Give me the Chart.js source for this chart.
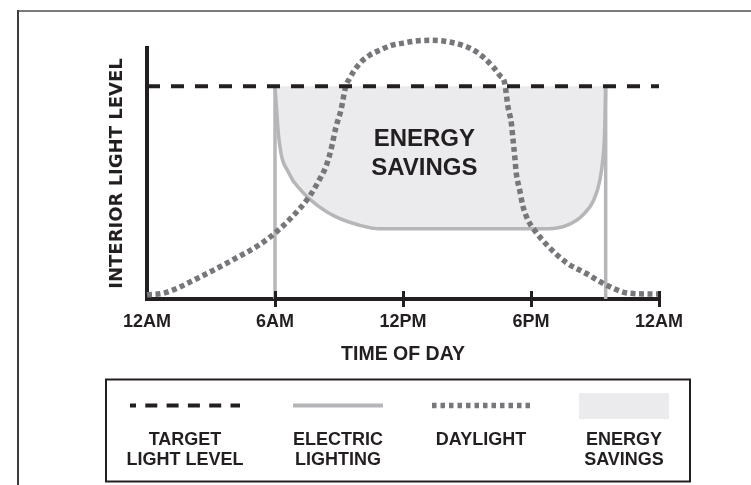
<!DOCTYPE html>
<html>
<head>
<meta charset="utf-8">
<title>Daylight harvesting</title>
<script src="https://cdn.jsdelivr.net/npm/chart.js@4.4.1/dist/chart.umd.min.js"></script>
<style>
    html, body { margin: 0; padding: 0; background: #fff; }
    canvas { display: block; }
</style>
</head>
<body>
<canvas id="bieu-do" width="751" height="485"></canvas>
<script>
// values: x = hour of day, y = light level (target = 100)
const tickLabels = ['12AM', '6AM', '12PM', '6PM', '12AM'];

const targetHours = [0, 24];
const targetLevel = [100, 100];

const daylightHours = [0, 0.8, 2.4, 4.0, 5.25, 6.0, 6.8, 7.6, 8.07, 8.38, 8.62, 8.86, 9.09, 9.31, 9.49, 9.72, 10.03, 10.43, 10.9, 11.45, 12.0, 12.61, 13.31, 14.02, 14.66, 15.28, 15.75, 16.22, 16.53, 16.77, 16.92, 17.08, 17.16, 17.24, 17.31, 17.47, 17.63, 17.86, 18.16, 18.82, 19.7, 20.57, 21.52, 22.62, 24];
const daylightLevel = [2, 2.8, 9.9, 18.3, 25.4, 31, 38.6, 48, 55.9, 62.1, 70, 80.9, 88.7, 99.7, 103.6, 107.5, 111.4, 114.6, 116.9, 119.2, 120.3, 121.3, 121.6, 121.1, 119.7, 117.2, 113.8, 109.1, 105.2, 101.3, 90.4, 82.6, 74.6, 66.9, 59.1, 51.2, 43.3, 37.1, 32.4, 24.6, 16.8, 12.1, 6.6, 2.7, 2.3];

const electricHours = [6, 6.19, 6.66, 7.21, 8.08, 8.86, 9.96, 10.9, 12, 15, 18, 18.82, 19.7, 20.42, 20.94, 21.23, 21.38, 21.45, 21.5];
const electricLevel = [100, 74.6, 59, 51.2, 43.3, 38.6, 34.7, 33, 33, 33, 33, 33, 34.7, 39.4, 46.5, 55.9, 66.8, 77.8, 100];

const savingsText = ['ENERGY', 'SAVINGS'];
const savingsAt = { hour: 13, level: 68 };

const legendLabels = [['TARGET', 'LIGHT LEVEL'], ['ELECTRIC', 'LIGHTING'], ['DAYLIGHT'], ['ENERGY', 'SAVINGS']];

const DARK = '#231f20';
const ELECTRIC = '#b6b6b9';
const DAYLIGHT = '#77777b';
const SAVINGS = '#ebebed';
const FONT = '"Liberation Sans", Arial, Helvetica, sans-serif';

document.addEventListener('DOMContentLoaded', function () {
    Chart.defaults.font.family = FONT;
    Chart.defaults.color = DARK;
    taoBieuDo();
});

function toPoints(xs, ys) {
    return xs.map((x, i) => ({ x: x, y: ys[i] }));
}

function taoBieuDo() {
    const ctx = document.getElementById('bieu-do').getContext('2d');
    const lastHour = electricHours[electricHours.length - 1];

    new Chart(ctx, {
        type: 'line',
        data: {
            datasets: [
                {
                    label: 'TARGET LIGHT LEVEL',
                    data: toPoints(targetHours, targetLevel),
                    borderColor: DARK,
                    borderWidth: 4,
                    borderDash: [13, 11],
                    pointRadius: 0,
                    fill: false,
                    clip: false
                },
                {
                    label: 'DAYLIGHT',
                    data: toPoints(daylightHours, daylightLevel),
                    borderColor: DAYLIGHT,
                    borderWidth: 5.5,
                    borderDash: [5, 3.5],
                    cubicInterpolationMode: 'monotone',
                    pointRadius: 0,
                    fill: false,
                    clip: false
                },
                {
                    label: 'electric on',
                    data: toPoints([electricHours[0], electricHours[0]], [0, targetLevel[0]]),
                    borderColor: ELECTRIC,
                    borderWidth: 3.5,
                    pointRadius: 0,
                    fill: false
                },
                {
                    label: 'electric off',
                    data: toPoints([lastHour, lastHour], [0, targetLevel[0]]),
                    borderColor: ELECTRIC,
                    borderWidth: 3.5,
                    pointRadius: 0,
                    fill: false
                },
                {
                    label: 'ELECTRIC LIGHTING',
                    data: toPoints(electricHours, electricLevel),
                    borderColor: ELECTRIC,
                    borderWidth: 3.5,
                    cubicInterpolationMode: 'monotone',
                    pointRadius: 0,
                    backgroundColor: SAVINGS,
                    fill: { value: targetLevel[0] }
                }
            ]
        },
        options: {
            responsive: false,
            animation: false,
            devicePixelRatio: 1,
            layout: { padding: { left: 0, right: 92, top: 48, bottom: 0 } },
            plugins: {
                legend: { display: false },
                tooltip: { enabled: false }
            },
            scales: {
                x: {
                    type: 'linear',
                    min: 0,
                    max: 24,
                    grid: { display: false, drawTicks: false },
                    border: { display: true, color: DARK, width: 4 },
                    ticks: {
                        stepSize: 6,
                        autoSkip: false,
                        maxRotation: 0,
                        padding: 12,
                        color: DARK,
                        font: { size: 18, weight: 'bold' },
                        callback: value => tickLabels[value / 6]
                    },
                    title: {
                        display: true,
                        text: 'TIME OF DAY',
                        color: DARK,
                        font: { size: 19.5, weight: 'bold' },
                        padding: { top: 0, bottom: 119 }
                    },
                    afterFit: scale => { scale.height = 186; }
                },
                y: {
                    min: 0,
                    max: 118,
                    grid: { display: false, drawTicks: false },
                    border: { display: true, color: DARK, width: 4 },
                    ticks: { display: false },
                    title: {
                        display: true,
                        text: 'INTERIOR LIGHT LEVEL',
                        color: DARK,
                        font: { family: '"DejaVu Sans", ' + FONT, size: 18, weight: 'bold' },
                        padding: { top: 107, bottom: 0 }
                    },
                    afterFit: scale => { scale.width = 147; }
                }
            }
        },
        plugins: [khungNgoai, vachChia, nhanTietKiem, chuGiai]
    });
}

// thin frame around the figure
const khungNgoai = {
    id: 'khungNgoai',
    beforeDraw(chart) {
        const c = chart.ctx;
        c.save();
        c.lineWidth = 2;
        c.strokeStyle = '#7b7b7b';
        c.beginPath();
        c.moveTo(18, 11);
        c.lineTo(chart.width, 11);
        c.stroke();
        c.strokeStyle = '#3c3c3c';
        c.beginPath();
        c.moveTo(18, 10);
        c.lineTo(18, chart.height);
        c.stroke();
        c.restore();
    }
};

// tick marks that cross the time axis
const vachChia = {
    id: 'vachChia',
    afterDatasetsDraw(chart) {
        const x = chart.scales.x;
        const c = chart.ctx;
        const y0 = chart.chartArea.bottom;
        c.save();
        c.strokeStyle = DARK;
        c.lineWidth = 3;
        x.ticks.forEach((t, i) => {
            if (i === 0) return;
            const px = Math.round(x.getPixelForTick(i)) + 0.5;
            c.beginPath();
            c.moveTo(px, y0 - 8);
            c.lineTo(px, y0 + 8);
            c.stroke();
        });
        c.restore();
    }
};

const nhanTietKiem = {
    id: 'nhanTietKiem',
    afterDatasetsDraw(chart) {
        const c = chart.ctx;
        const px = chart.scales.x.getPixelForValue(savingsAt.hour);
        const py = chart.scales.y.getPixelForValue(savingsAt.level);
        c.save();
        c.fillStyle = DARK;
        c.font = `bold 24px ${FONT}`;
        c.textAlign = 'center';
        c.textBaseline = 'middle';
        savingsText.forEach((line, i) => {
            c.fillText(line, px, py + (i - (savingsText.length - 1) / 2) * 29);
        });
        c.restore();
    }
};

// legend box under the chart: symbol on top, label below
const chuGiai = {
    id: 'chuGiai',
    afterDraw(chart) {
        const c = chart.ctx;
        const ds = chart.data.datasets;
        const centers = [185, 338, 481, 624];
        const symY = 405.5;
        c.save();
        c.strokeStyle = DARK;
        c.lineWidth = 2;
        c.strokeRect(106, 379.5, 584, 102);

        // target dashes
        c.strokeStyle = ds[0].borderColor;
        c.lineWidth = 4;
        c.setLineDash([12, 9.3]);
        c.lineDashOffset = 6;
        c.beginPath();
        c.moveTo(130, symY);
        c.lineTo(240, symY);
        c.stroke();

        // electric line
        c.setLineDash([]);
        c.lineDashOffset = 0;
        c.strokeStyle = ds[4].borderColor;
        c.beginPath();
        c.moveTo(293, symY);
        c.lineTo(383, symY);
        c.stroke();

        // daylight dots
        c.strokeStyle = ds[1].borderColor;
        c.lineWidth = 5.5;
        c.setLineDash([4.5, 4]);
        c.beginPath();
        c.moveTo(432, symY);
        c.lineTo(531, symY);
        c.stroke();
        c.setLineDash([]);

        // savings swatch
        c.fillStyle = ds[4].backgroundColor;
        c.fillRect(579, 393, 90, 26);

        c.fillStyle = DARK;
        c.font = `bold 18px ${FONT}`;
        c.textAlign = 'center';
        c.textBaseline = 'middle';
        legendLabels.forEach((lines, i) => {
            lines.forEach((line, j) => {
                c.fillText(line, centers[i], 440 + j * 20.5);
            });
        });
        c.restore();
    }
};
</script>
</body>
</html>
